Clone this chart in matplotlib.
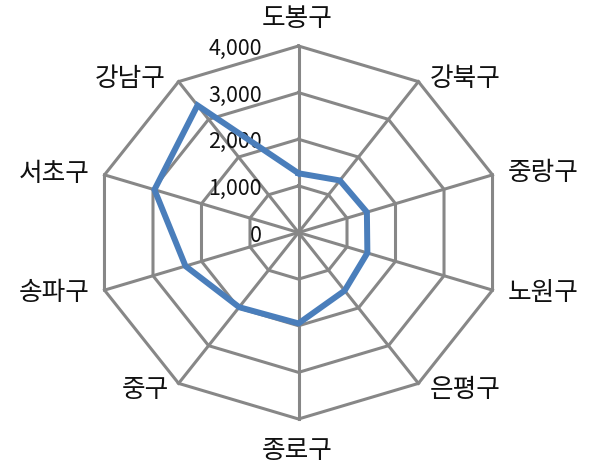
import numpy as np
import matplotlib
matplotlib.use("Agg")
import matplotlib.pyplot as plt

plt.rcParams['font.family'] = ['Noto Sans CJK KR', 'DejaVu Sans']

categories = ['도봉구', '강북구', '중랑구', '노원구', '은평구',
              '종로구', '중구', '송파구', '서초구', '강남구']
values = [1270, 1380, 1410, 1420, 1540, 1950, 1980, 2330, 2970, 3370]
ticks = [0, 1000, 2000, 3000, 4000]
tick_labels = ['0', '1,000', '2,000', '3,000', '4,000']
# label offsets (pixels) from the outer vertex of each spoke
label_offsets = [(-1.5, 27), (46.6, 2.6), (50.5, 1.9), (50.5, -2.9), (46.6, -6.6),
                 (-1.5, -32), (-33.6, -6.6), (-50.5, -2.9), (-50.5, 0.9), (-48.6, 3.1)]

W, H = 597, 470
fig = plt.figure(figsize=(W / 100, H / 100), dpi=100)
cx, cy, RX, RY = 298.5, 232.5, 204, 186.5
ax = fig.add_axes([(cx - RX) / W, (H - cy - RY) / H, 2 * RX / W, 2 * RY / H],
                  projection='polar')
ax.set_aspect('auto')
ax.set_theta_offset(np.pi / 2)
ax.set_theta_direction(-1)
ax.set_ylim(0, 4000)
ax.grid(False)
ax.spines['polar'].set_visible(False)
ax.set_xticks([])
ax.set_yticks([])
ax.patch.set_alpha(0)

n = len(categories)
angles = np.arange(n) * 2 * np.pi / n
closed = np.append(angles, angles[0])

grid_color = '#878787'
for t in ticks[1:]:
    ax.plot(closed, [t] * (n + 1), color=grid_color, lw=2.2, zorder=1,
            solid_joinstyle='miter', clip_on=False)
for a in angles:
    ax.plot([a, a], [0, ticks[-1]], color=grid_color, lw=2.2, zorder=1, clip_on=False)

ax.plot(closed, values + [values[0]], color='#4a7ebb', lw=4.3, zorder=3,
        solid_joinstyle='miter', clip_on=False)

for t, lab in zip(ticks, tick_labels):
    ax.annotate(lab, xy=(0, t), xytext=(-36.5, -3), textcoords='offset pixels',
                ha='right', va='center', fontsize=15.5, color='#111111',
                annotation_clip=False, zorder=2)

for a, lab, off in zip(angles, categories, label_offsets):
    ax.annotate(lab, xy=(a, ticks[-1]), xytext=off, textcoords='offset pixels',
                ha='center', va='center', fontsize=18.5, color='#111111',
                annotation_clip=False)

fig.savefig('out.png', dpi=100)
